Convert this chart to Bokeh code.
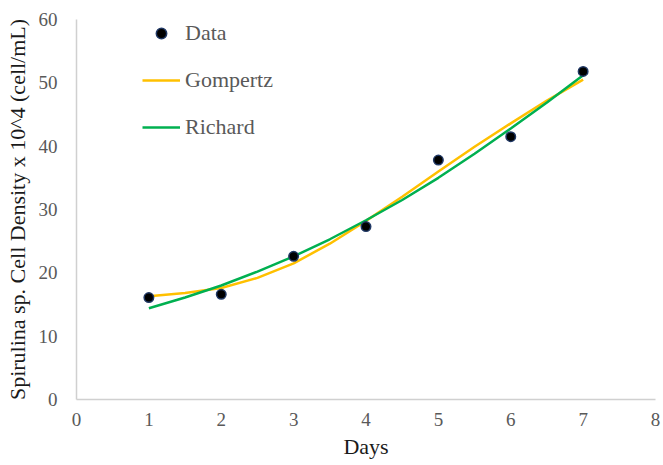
from bokeh.plotting import figure
from bokeh.models import Range1d, FixedTicker, Legend, LegendItem
from bokeh.embed import file_html
from bokeh.resources import INLINE

days = [1, 2, 3, 4, 5, 6, 7]
density = [16.1, 16.6, 22.6, 27.3, 37.8, 41.5, 51.8]

curve_days = [1, 1.5, 2, 2.5, 3, 3.5, 4, 4.5, 5, 5.5, 6, 6.5, 7]
gompertz = [16.3, 16.8, 17.6, 19.2, 21.5, 24.6, 28.2, 32.0, 36.0, 39.9, 43.6, 47.2, 50.5]
richard = [14.4, 16.1, 18.0, 20.2, 22.6, 25.3, 28.3, 31.5, 35.0, 38.8, 42.8, 46.9, 51.2]

x_ticks = [0, 1, 2, 3, 4, 5, 6, 7, 8]
y_ticks = [0, 10, 20, 30, 40, 50, 60]

FONT = "Liberation Serif"

p = figure(frame_width=579, frame_height=380, output_backend="svg", toolbar_location=None,
           x_range=Range1d(0, 8), y_range=Range1d(0, 60),
           min_border_left=76, min_border_right=8, min_border_top=19, min_border_bottom=66)
p.outline_line_color = None
p.xgrid.grid_line_color = None
p.ygrid.grid_line_color = None
p.background_fill_color = "white"

for ax in (p.xaxis[0], p.yaxis[0]):
    ax.axis_line_color = "#d0d0d0"
    ax.axis_line_width = 1.5
    ax.major_tick_line_color = None
    ax.minor_tick_line_color = None
    ax.major_tick_out = 0
    ax.major_tick_in = 0
    ax.major_label_text_font = FONT
    ax.major_label_text_font_size = "19px"
    ax.major_label_text_color = "#595959"
    ax.axis_label_text_font = FONT
    ax.axis_label_text_font_size = "22px"
    ax.axis_label_text_font_style = "normal"
    ax.axis_label_text_color = "#1a1a1a"

p.xaxis.ticker = FixedTicker(ticks=x_ticks)
p.yaxis.ticker = FixedTicker(ticks=y_ticks)
p.xaxis.axis_label = "Days"
p.yaxis.axis_label = "Spirulina sp. Cell Density x 10^4 (cell/mL)"
p.xaxis.major_label_standoff = 13
p.xaxis.axis_label_standoff = 5
p.yaxis.major_label_standoff = 19
p.yaxis.axis_label_standoff = 6

g = p.line(curve_days, gompertz, line_color="#FFC000", line_width=2.5)
r = p.line(curve_days, richard, line_color="#00B050", line_width=2.5)
d = p.scatter(days, density, size=9.5, fill_color="black", line_color="#203864", line_width=1.5)

legend = Legend(items=[LegendItem(label="Data", renderers=[d]),
                       LegendItem(label="Gompertz", renderers=[g]),
                       LegendItem(label="Richard", renderers=[r])],
                location=(66, 259), orientation="vertical",
                border_line_alpha=0, background_fill_alpha=0, padding=0, margin=0,
                glyph_width=38, glyph_height=26, label_height=26, label_standoff=5,
                spacing=21, label_text_font=FONT, label_text_font_size="22px",
                label_text_color="#595959")
p.add_layout(legend)

open("out.html", "w").write(file_html(p, INLINE))
